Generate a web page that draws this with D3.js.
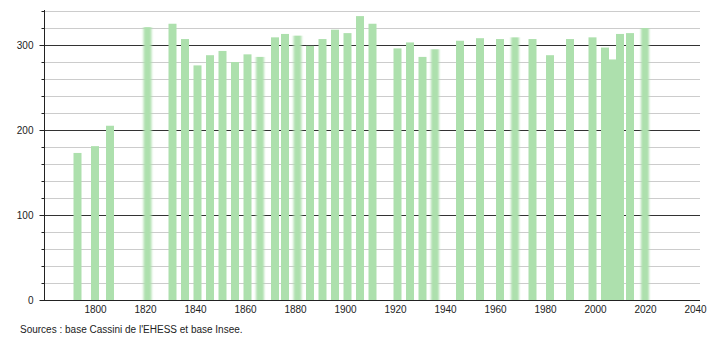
<!DOCTYPE html>
<html>
<head>
<meta charset="utf-8">
<script src="https://cdn.jsdelivr.net/npm/d3@7"></script>
<style>
  body { margin: 0; background: #fff; }
  svg { font-family: "Liberation Sans", Arial, sans-serif; }
</style>
</head>
<body>
<svg id="drawing_region"></svg>
<script>
// census years and population
const years = [1793, 1800, 1806, 1821, 1831, 1836, 1841, 1846, 1851, 1856,
    1861, 1866, 1872, 1876, 1881, 1886, 1891, 1896, 1901, 1906, 1911,
    1921, 1926, 1931, 1936, 1946, 1954, 1962, 1968, 1975, 1982, 1990,
    1999, 2004, 2007, 2010, 2014, 2020];
const population = [173, 181, 205, 321, 325, 307, 276, 288, 293, 280,
    289, 286, 309, 313, 311, 299, 307, 318, 314, 334, 325,
    296, 303, 286, 295, 305, 308, 307, 309, 307, 288, 307,
    309, 297, 283, 313, 314, 320];
const xTicks = [1800, 1820, 1840, 1860, 1880, 1900, 1920, 1940, 1960, 1980, 2000, 2020, 2040];
const yMajor = [0, 100, 200, 300];
const yMinor = d3.range(0, 341, 20);
// bars that look soft-edged in the original
const softYears = [1821, 1866, 1881, 1936, 1968, 2020];
const source = "Sources : base Cassini de l'EHESS et base Insee.";

const data = years.map((y, i) => ({ year: y, value: population[i] }));

const config = { width: 710, height: 340, left: 45, right: 700, top: 11, bottom: 300, barWidth: 8 };

const svg = d3.select('#drawing_region')
    .attr('width', config.width)
    .attr('height', config.height);

const xscale = d3.scaleLinear().domain([1780, 2042]).range([config.left, config.right]);
const yscale = d3.scaleLinear().domain([0, 340]).range([config.bottom, config.top]);

const defs = svg.append('defs');
defs.append('filter').attr('id', 'soft')
    .attr('x', '-50%').attr('width', '200%')
    .append('feGaussianBlur').attr('stdDeviation', '1.3 0');

// grid
svg.append('g').selectAll('line')
    .data(yMinor.filter(v => v > 0))
    .join('line')
    .attr('x1', config.left).attr('x2', config.right)
    .attr('y1', d => yscale(d) + 0.5).attr('y2', d => yscale(d) + 0.5)
    .attr('stroke', d => d % 100 === 0 ? '#333' : '#ccc')
    .attr('stroke-width', 1);

// bars
svg.append('g').selectAll('rect')
    .data(data)
    .join('rect')
    .attr('x', d => xscale(d.year) - config.barWidth / 2)
    .attr('width', config.barWidth)
    .attr('y', d => yscale(d.value))
    .attr('height', d => yscale(0) - yscale(d.value))
    .attr('fill', '#ade0ad')
    .attr('filter', d => softYears.includes(d.year) ? 'url(#soft)' : null);

// y axis
const yaxis = d3.axisLeft(yscale).tickValues(yMajor).tickSize(5).tickPadding(6);
const yg = svg.append('g')
    .attr('transform', `translate(${config.left - 0.5},0)`)
    .call(yaxis);
yg.select('.domain').attr('stroke', '#222').attr('d', `M0,${config.top - 1}V${config.bottom}`);
yg.selectAll('.tick line').attr('stroke', '#222');
yg.selectAll('.tick text').attr('font-size', 10).attr('fill', '#222').attr('font-family', null);
yg.selectAll('.minor')
    .data(yMinor.filter(v => v % 100 !== 0))
    .join('line')
    .attr('class', 'minor')
    .attr('x1', -3).attr('x2', 0)
    .attr('y1', d => yscale(d) + 0.5).attr('y2', d => yscale(d) + 0.5)
    .attr('stroke', '#222');

// x axis
const xaxis = d3.axisBottom(xscale).tickValues(xTicks).tickFormat(d3.format('d')).tickSize(0).tickPadding(5);
const xg = svg.append('g')
    .attr('transform', `translate(0,${config.bottom + 0.5})`)
    .call(xaxis);
xg.select('.domain').attr('stroke', '#222').attr('d', `M${config.left - 1},0H${config.right}`);
xg.selectAll('.tick text').attr('font-size', 10).attr('fill', '#222').attr('font-family', null);

// source
svg.append('text')
    .attr('x', 20).attr('y', 333)
    .attr('font-size', 10)
    .attr('fill', '#222')
    .text(source);
</script>
</body>
</html>
